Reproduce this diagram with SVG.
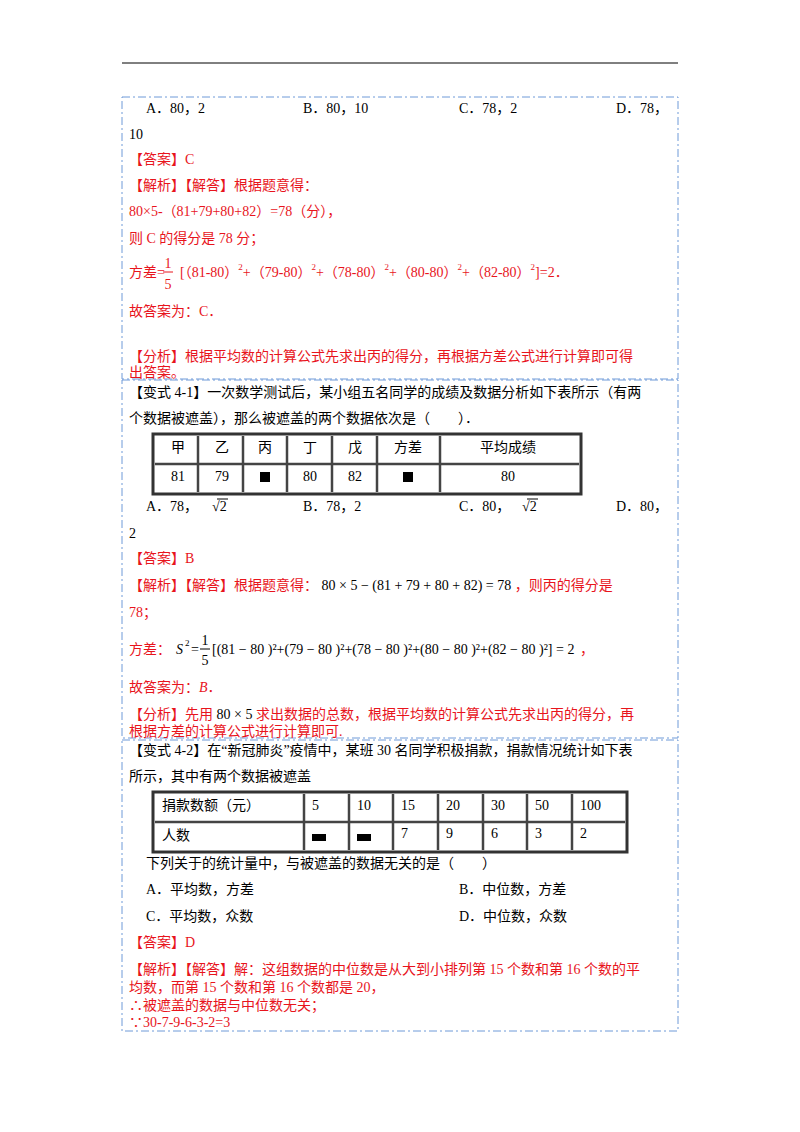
<svg xmlns="http://www.w3.org/2000/svg" width="800" height="1132" viewBox="0 0 800 1132">
<style>
text{font-family:"Liberation Serif","Noto Sans CJK SC",serif;font-size:14px;fill:#000}
.r{fill:#e8141c}
.k{fill:#000}
.box{fill:none;stroke:#6f9ad8;stroke-width:1;stroke-dasharray:8,3,2,3}
.tb{fill:none;stroke:#333;stroke-width:3}
.tl{stroke:#444;stroke-width:2.5}
.c{text-anchor:middle}
.s{font-size:9px}
</style>
<rect width="800" height="1132" fill="#fff"/>
<line x1="122" y1="63" x2="678" y2="63" stroke="#000" stroke-width="1"/>
<g id="box1">
<rect class="box" x="122" y="97" width="556" height="282"/>
<text x="146" y="113">A．80，2</text><text x="303" y="113">B．80，10</text><text x="459" y="113">C．78，2</text><text x="616" y="113">D．78，</text>
<text x="129" y="139">10</text>
<text x="129" y="164" class="r">【答案】C</text>
<text x="129" y="190" class="r">【解析】【解答】根据题意得：</text>
<text x="129" y="216" class="r">80×5-（81+79+80+82）=78（分），</text>
<text x="129" y="243" class="r">则 C 的得分是 78 分；</text>
<text x="129" y="277" class="r">方差=</text>
<text x="168" y="268" class="r c">1</text><line x1="163" y1="272" x2="173" y2="272" stroke="#e8141c"/><text x="168" y="289" class="r c">5</text>
<text x="180" y="277" class="r">[（81-80）<tspan class="s" dy="-7">2</tspan><tspan dy="7">+（79-80）</tspan><tspan class="s" dy="-7">2</tspan><tspan dy="7">+（78-80）</tspan><tspan class="s" dy="-7">2</tspan><tspan dy="7">+（80-80）</tspan><tspan class="s" dy="-7">2</tspan><tspan dy="7">+（82-80）</tspan><tspan class="s" dy="-7">2</tspan><tspan dy="7">]=2．</tspan></text>
<text x="129" y="316" class="r">故答案为：C．</text>
<text x="129" y="361" class="r">【分析】根据平均数的计算公式先求出丙的得分，再根据方差公式进行计算即可得</text>
<text x="129" y="377" class="r">出答案。</text>
</g>
<g id="box2">
<rect class="box" x="122" y="380" width="556" height="358"/>
<text x="129" y="397">【变式 4-1】一次数学测试后，某小组五名同学的成绩及数据分析如下表所示（有两</text>
<text x="129" y="423">个数据被遮盖），那么被遮盖的两个数据依次是（　　）．</text>
<g id="table1">
<rect class="tb" x="153" y="434" width="428" height="60"/>
<line class="tl" x1="155" y1="464" x2="579" y2="464"/>
<line class="tl" x1="198" y1="436" x2="198" y2="492"/><line class="tl" x1="243" y1="436" x2="243" y2="492"/><line class="tl" x1="287" y1="436" x2="287" y2="492"/><line class="tl" x1="332" y1="436" x2="332" y2="492"/><line class="tl" x1="377" y1="436" x2="377" y2="492"/><line class="tl" x1="440" y1="436" x2="440" y2="492"/>
<text x="178" y="452" class="c">甲</text><text x="222" y="452" class="c">乙</text><text x="265" y="452" class="c">丙</text><text x="310" y="452" class="c">丁</text><text x="355" y="452" class="c">戊</text><text x="408" y="452" class="c">方差</text><text x="508" y="452" class="c">平均成绩</text>
<text x="178" y="481" class="c">81</text><text x="222" y="481" class="c">79</text><rect x="260" y="472" width="10" height="10"/><text x="310" y="481" class="c">80</text><text x="355" y="481" class="c">82</text><rect x="403" y="472" width="10" height="10"/><text x="508" y="481" class="c">80</text>
</g>
<text x="146" y="511">A．78，</text><text x="212" y="511">√2</text><line x1="217" y1="499" x2="228" y2="499" stroke="#000"/>
<text x="303" y="511">B．78，2</text>
<text x="459" y="511">C．80，</text><text x="522" y="511">√2</text><line x1="527" y1="499" x2="538" y2="499" stroke="#000"/>
<text x="616" y="511">D．80，</text>
<text x="129" y="538">2</text>
<text x="129" y="563" class="r">【答案】B</text>
<text x="129" y="590" class="r">【解析】【解答】根据题意得：<tspan class="k">  80 × 5 − (81 + 79 + 80 + 82) = 78 </tspan>，则丙的得分是</text>
<text x="129" y="617" class="r">78；</text>
<text x="129" y="654" class="r">方差：</text>
<text x="176" y="654" font-style="italic">S</text><text x="185" y="646" class="s">2</text><text x="191" y="654">=</text>
<text x="205" y="645" class="c">1</text><line x1="200" y1="649" x2="210" y2="649" stroke="#000"/><text x="205" y="665" class="c">5</text>
<text x="212" y="654">[(81 − 80 )²+(79 − 80 )²+(78 − 80 )²+(80 − 80 )²+(82 − 80 )²] = 2</text><text x="580" y="654" class="r">，</text>
<text x="129" y="692" class="r">故答案为：<tspan font-style="italic">B</tspan>．</text>
<text x="129" y="719" class="r">【分析】先用<tspan class="k"> 80 × 5 </tspan>求出数据的总数，根据平均数的计算公式先求出丙的得分，再</text>
<text x="129" y="736" class="r">根据方差的计算公式进行计算即可.</text>
</g>
<g id="box3">
<rect class="box" x="122" y="740" width="556" height="291"/>
<text x="129" y="755">【变式 4-2】在“新冠肺炎”疫情中，某班 30 名同学积极捐款，捐款情况统计如下表</text>
<text x="129" y="781">所示，其中有两个数据被遮盖</text>
<g id="table2">
<rect class="tb" x="153" y="792" width="474" height="60"/>
<line class="tl" x1="155" y1="822" x2="625" y2="822"/>
<line class="tl" x1="304" y1="794" x2="304" y2="850"/><line class="tl" x1="349" y1="794" x2="349" y2="850"/><line class="tl" x1="393" y1="794" x2="393" y2="850"/><line class="tl" x1="438" y1="794" x2="438" y2="850"/><line class="tl" x1="483" y1="794" x2="483" y2="850"/><line class="tl" x1="527" y1="794" x2="527" y2="850"/><line class="tl" x1="572" y1="794" x2="572" y2="850"/>
<text x="162" y="810">捐款数额（元）</text><text x="312" y="810">5</text><text x="357" y="810">10</text><text x="401" y="810">15</text><text x="446" y="810">20</text><text x="491" y="810">30</text><text x="535" y="810">50</text><text x="580" y="810">100</text>
<text x="162" y="840">人数</text><rect x="312" y="834" width="14" height="7"/><rect x="357" y="834" width="14" height="7"/><text x="401" y="838">7</text><text x="446" y="838">9</text><text x="491" y="838">6</text><text x="535" y="838">3</text><text x="580" y="838">2</text>
</g>
<text x="146" y="868">下列关于的统计量中，与被遮盖的数据无关的是（　　）</text>
<text x="146" y="894">A．平均数，方差</text><text x="459" y="894">B．中位数，方差</text>
<text x="146" y="921">C．平均数，众数</text><text x="459" y="921">D．中位数，众数</text>
<text x="129" y="947" class="r">【答案】D</text>
<text x="129" y="974" class="r">【解析】【解答】解：这组数据的中位数是从大到小排列第 15 个数和第 16 个数的平</text>
<text x="129" y="992" class="r">均数，而第 15 个数和第 16 个数都是 20，</text>
<text x="129" y="1010" class="r">∴被遮盖的数据与中位数无关；</text>
<text x="129" y="1027" class="r">∵30-7-9-6-3-2=3</text>
</g>
</svg>
